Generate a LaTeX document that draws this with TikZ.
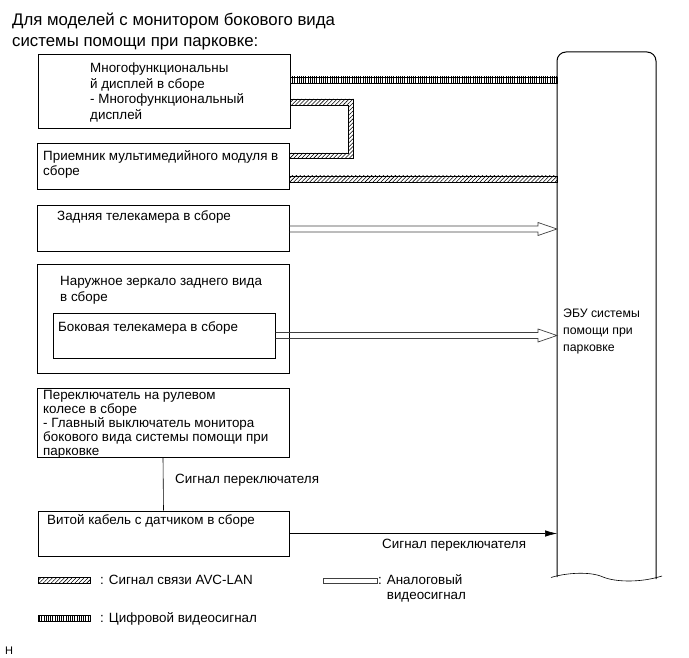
\documentclass[tikz,border=0pt]{standalone}
\usepackage{fontspec}
\setmainfont{Liberation Sans}
\usetikzlibrary{arrows.meta,patterns.meta,calc}

% open analog video arrow between two points on one level
\newcommand{\anarrow}[2]{%
  \path[ana] ($(#1)+(0,-3)$) -- ($(#2)+(-19,-3)$) -- ($(#2)+(-19,-6.5)$) -- (#2)
    -- ($(#2)+(-19,6.5)$) -- ($(#2)+(-19,3)$) -- ($(#1)+(0,3)$);}

\begin{document}
\begin{tikzpicture}[x=1pt,y=-1pt,>={Latex[length=12pt,width=6.5pt]},font=\fontsize{13.4}{15.5}\selectfont,
  blk/.style={draw,line width=1pt,inner sep=0pt},
  txt/.style={anchor=base west,align=left,inner sep=0pt},
  avc/.style={draw,line width=0.6pt,pattern={Lines[angle=45,distance=2.8pt,line width=0.55pt]}},
  digi/.style={draw,line width=0.6pt,pattern={Lines[angle=90,distance=2.2pt,line width=0.7pt]}},
  ana/.style={draw=black!75,line width=0.7pt}]
\useasboundingbox (0,0) rectangle (689,658);

% multi-line texts are placed by the baseline of their last line
\node[txt,font=\fontsize{16.8}{21}\selectfont] (title) at (12,46.5)
  {Для моделей с монитором бокового вида\\системы помощи при парковке:};

% blocks
\node[blk,minimum width=252pt,minimum height=74pt] (mfd) at (164,92) {};
\node[blk,minimum width=252pt,minimum height=46pt] (recv) at (163,167) {};
\node[blk,minimum width=252pt,minimum height=46pt] (rear) at (163,229) {};
\node[blk,minimum width=252pt,minimum height=108pt] (mirror) at (163,319) {};
\node[blk,minimum width=222pt,minimum height=45pt] (side) at (164,335.5) {};
\node[blk,minimum width=252pt,minimum height=69pt] (sw) at (163,422.5) {};
\node[blk,minimum width=251pt,minimum height=45pt] (cable) at (163.5,533.5) {};

\node[txt,font=\fontsize{13.4}{15.7}\selectfont] (mfdtxt) at (90,119.5)
  {Многофункциональны\\й дисплей в сборе\\- Многофункциональный\\дисплей};
\node[txt] (recvtxt) at (43,176) {Приемник мультимедийного модуля в\\сборе};
\node[txt] (reartxt) at (57,220.5) {Задняя телекамера в сборе};
\node[txt] (mirrortxt) at (60,301.5) {Наружное зеркало заднего вида\\в сборе};
\node[txt] (sidetxt) at (58,331.5) {Боковая телекамера в сборе};
\node[txt,font=\fontsize{13.4}{14.1}\selectfont] (swtxt) at (43,455.5)
  {Переключатель на рулевом\\колесе в сборе\\- Главный выключатель монитора\\бокового вида системы помощи при\\парковке};
\node[txt] (cabletxt) at (47,524.5) {Витой кабель с датчиком в сборе};

% ECU
\draw[line width=1pt,rounded corners=9pt] (557,577) -- (557,52) -- (656,52) -- (656,579);
\draw[line width=0.6pt] (551,577.5) .. controls (565,573) and (590,571) .. (603,577)
  .. controls (615,582) and (640,583) .. (662,576);
\node[txt,font=\fontsize{12.3}{17.5}\selectfont] (ecu) at (563,352) {ЭБУ системы\\помощи при\\парковке};
\coordinate (ecuL) at (557,300);

% digital video
\coordinate (d1) at ($(mfd.east)+(0,-12)$);
\path[digi] ($(d1)+(0,-3)$) rectangle ($(d1 -| ecuL)+(0,3)$);

% AVC-LAN
\coordinate (a1) at ($(mfd.east)+(0,7)$);
\coordinate (a2) at ($(recv.east)+(0,-9)$);
\path[avc] (a1) -| ($(a2)+(64,0)$) -- (a2) -- ++(0,-5) -| ($(a1)+(58,6)$) -- ($(a1)+(0,6)$) -- cycle;
\coordinate (a3) at ($(recv.east)+(0,12)$);
\path[avc] ($(a3)+(0,-3)$) rectangle ($(a3 -| ecuL)+(0,3)$);

% analog video
\anarrow{rear.east}{rear.east -| ecuL}
\anarrow{side.east}{side.east -| ecuL}

% switch signal
\draw[line width=0.6pt] (sw.south) -- (cable.north);
\node[txt] (sig1) at (175,483) {Сигнал переключателя};
\draw[->,line width=0.6pt] (cable.east) -- (cable.east -| ecuL);
\node[txt] (sig2) at (382,548.5) {Сигнал переключателя};

% legend
\path[avc] (38,577) rectangle (90,583);
\node[txt] (legavc) at (100,584.5) {: Сигнал связи AVC-LAN};
\path[digi] (38,615) rectangle (90,621);
\node[txt] (legdigi) at (100,622.5) {: Цифровой видеосигнал};
\path[ana] (323,578) rectangle (377,583);
\node[txt] (legana) at (378,599.5) {: Аналоговый\\\hphantom{: }видеосигнал};

\node[txt,font=\fontsize{11}{13}\selectfont] (hmark) at (5,654) {H};
\end{tikzpicture}
\end{document}
